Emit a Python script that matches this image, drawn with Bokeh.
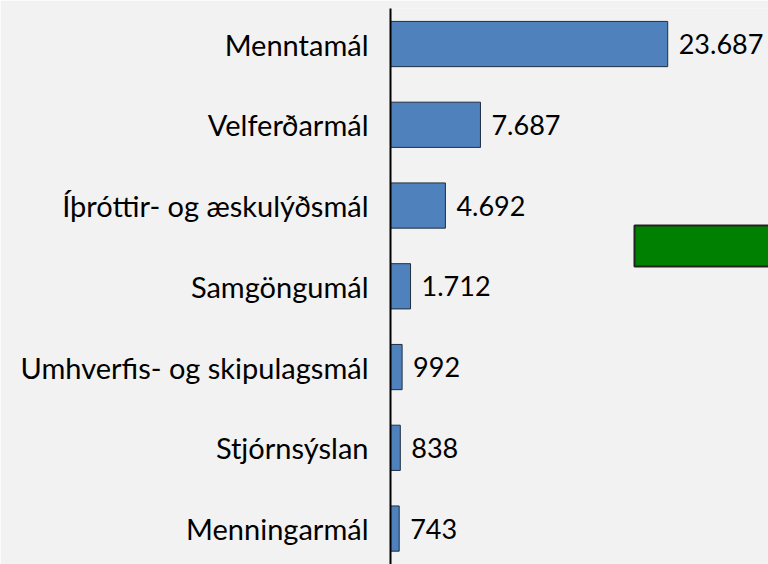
from bokeh.plotting import figure
from bokeh.models import ColumnDataSource, Range1d, FixedTicker, BoxAnnotation, LabelSet
from bokeh.core.properties import value
from bokeh.embed import file_html
from bokeh.resources import INLINE

categories = ["Menntamál", "Velferðarmál", "Íþróttir- og æskulýðsmál", "Samgöngumál",
              "Umhverfis- og skipulagsmál", "Stjórnsýslan", "Menningarmál"]
values = [23687, 7687, 4692, 1712, 992, 838, 743]

def fmt(v):
    return f"{v:,}".replace(",", ".")

n = len(categories)
ypos = [n - 1 - i for i in range(n)]
src = ColumnDataSource(dict(y=ypos, v=values, lab=[fmt(v) for v in values], cat=categories))

BG = "#f2f2f2"
FONT = "Lato"
FS = "29px"
XMAX = 32300
YLO, YHI = -0.445, n - 1 + 0.44

p = figure(width=768, height=564, output_backend="svg", toolbar_location=None,
           x_range=Range1d(0, XMAX), y_range=Range1d(YLO, YHI),
           min_border_left=390, min_border_right=0, min_border_top=8, min_border_bottom=0,
           background_fill_color=BG, border_fill_color=BG, outline_line_color=None)

p.hbar(y="y", right="v", left=0, height=0.56, source=src,
       fill_color="#4f81bd", line_color="#1f2f3f", line_width=1)

labels = LabelSet(x="v", y="y", text="lab", source=src, x_offset=11,
                  text_baseline="middle", text_align="left",
                  text_font=value(FONT), text_font_size=value("27px"), text_color="#000000")
p.add_layout(labels)

# green box partly outside the picture (clipped legend-like element), placed by fractions of the frame
fw, fh = 378.0, 556.0
bx0 = XMAX * (634 - 390) / fw
by_top = YHI - (YHI - YLO) * (225 - 8) / fh
by_bot = YHI - (YHI - YLO) * (266 - 8) / fh
p.add_layout(BoxAnnotation(left=bx0, right=XMAX * 1.2, top=by_top, bottom=by_bot,
                           fill_color="#008000", fill_alpha=1.0,
                           line_color="#222222", line_width=2, line_alpha=1.0))

p.xaxis.visible = False
p.xgrid.visible = False
p.ygrid.visible = False

ya = p.yaxis[0]
ya.ticker = FixedTicker(ticks=ypos)
ya.major_label_overrides = {y: c for y, c in zip(ypos, categories)}
ya.major_tick_line_color = None
ya.minor_tick_line_color = None
ya.major_tick_out = 0
ya.major_label_standoff = 22
ya.major_label_text_font = FONT
ya.major_label_text_font_size = FS
ya.major_label_text_color = "#000000"
ya.axis_line_color = "#000000"
ya.axis_line_width = 2

html = file_html(p, INLINE)
open("out.html", "w").write(html)
